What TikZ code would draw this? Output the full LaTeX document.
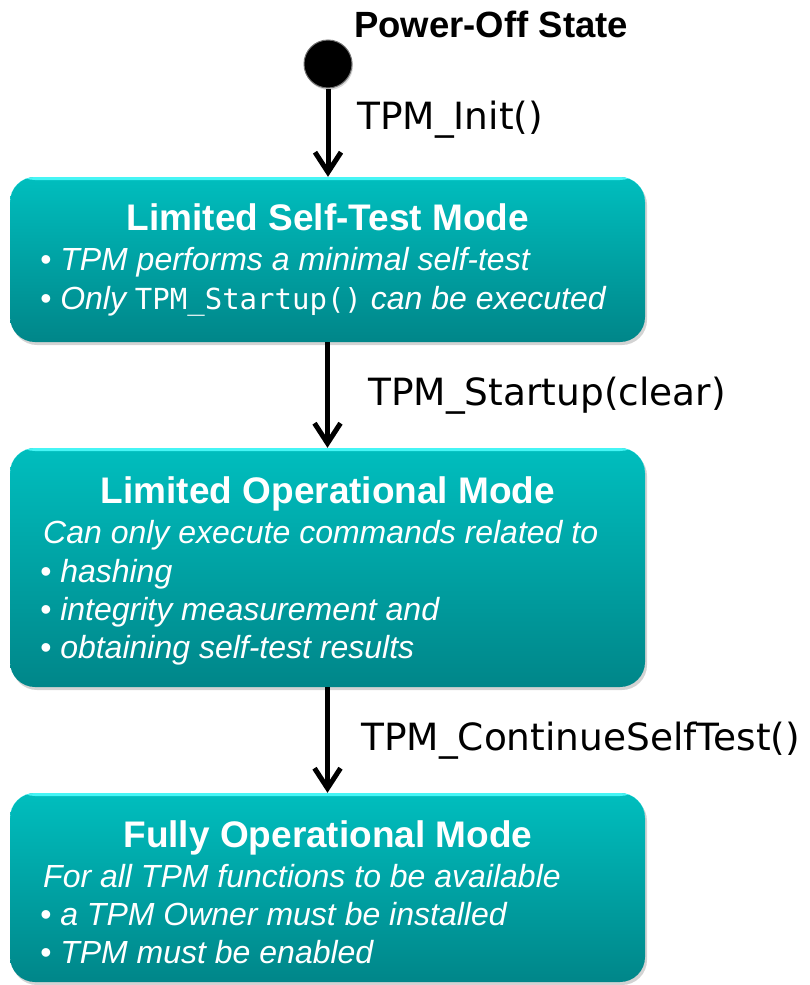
\documentclass[tikz,border=0pt]{standalone}
\usepackage{fontspec}
\setmainfont{Liberation Sans}
\setmonofont{DejaVu Sans Mono}
\newfontfamily\labelfont{DejaVu Sans}
\usetikzlibrary{arrows.meta,shadows}
\definecolor{modetop}{RGB}{0,190,190}
\definecolor{modebot}{RGB}{0,134,137}
\definecolor{modeedge}{RGB}{70,245,245}
\begin{document}
\begin{tikzpicture}[x=1pt,y=-1pt]
	\tikzstyle{Mode} = [rectangle, rounded corners=25pt, minimum width=635pt, top color=modetop, bottom color=modebot, draw=none, drop shadow={shadow xshift=2pt, shadow yshift=-3pt, opacity=0.35},
		path picture={\fill[modeedge] (path picture bounding box.north west) rectangle ([yshift=-3pt]path picture bounding box.north east);}]
	\tikzstyle{Title} = [anchor=base, inner sep=0pt, text=white, font=\fontsize{37}{40}\selectfont\bfseries]
	\tikzstyle{Line} = [anchor=base west, inner sep=0pt, text=white, font=\fontsize{32}{38}\selectfont\itshape]
	\tikzstyle{Call} = [anchor=base west, inner sep=0pt, font=\labelfont\fontsize{37.5}{40}\selectfont]
	\tikzstyle{arrow} = [line width=5pt, -{Straight Barb[length=20pt, width=26pt, line width=5pt]}]

	\useasboundingbox (0,0) rectangle (809,985);

	% power-off state
	\node (off) [circle, minimum size=48pt, inner sep=0pt, fill=black, draw=black!55, line width=1pt, drop shadow={shadow xshift=1pt, shadow yshift=-2pt, opacity=0.3}] at (328,64) {};
	\node (offtitle) [anchor=base west, inner sep=0pt, font=\fontsize{36.5}{40}\selectfont\bfseries] at (354,37) {Power-Off State};

	% modes
	\node (selftest) [Mode, minimum height=165pt] at (327.5,259.5) {};
	\node (limited) [Mode, minimum height=239pt] at (327.5,567.5) {};
	\node (full) [Mode, minimum height=189pt] at (327.5,887.5) {};

	\node (t1) [Title] at (328,230) {Limited Self-Test Mode};
	\node (l11) [Line] at (40,270) {• TPM performs a minimal self-test};
	\node (l12) [Line] at (40,309) {• Only \upshape\ttfamily\fontsize{29}{38}\selectfont TPM\_Startup()\itshape\rmfamily\fontsize{32}{38}\selectfont{} can be executed};

	\node (t2) [Title] at (328,503) {Limited Operational Mode};
	\node (l21) [Line] at (43,543) {Can only execute commands related to};
	\node (l22) [Line] at (40,582) {• hashing};
	\node (l23) [Line] at (40,620) {• integrity measurement and};
	\node (l24) [Line] at (40,658) {• obtaining self-test results};

	\node (t3) [Title] at (328,847) {Fully Operational Mode};
	\node (l31) [Line] at (43,887) {For all TPM functions to be available};
	\node (l32) [Line] at (40,925) {• a TPM Owner must be installed};
	\node (l33) [Line] at (40,963) {• TPM must be enabled};

	% transitions
	\draw [arrow] (off) -- (off |- selftest.north);
	\draw [arrow] (selftest) -- (selftest |- limited.north);
	\draw [arrow] (limited) -- (limited |- full.north);

	\node (c1) [Call] at (357,129) {TPM\_Init()};
	\node (c2) [Call] at (368,405) {TPM\_Startup(clear)};
	\node (c3) [Call] at (361,750) {TPM\_ContinueSelfTest()};
\end{tikzpicture}
\end{document}
